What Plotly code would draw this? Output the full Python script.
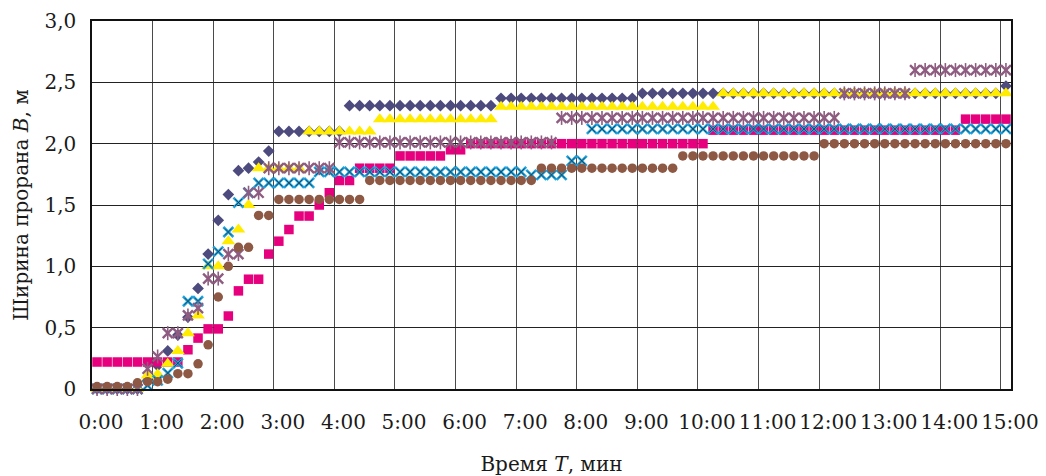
import plotly.graph_objects as go

# time stamps every 10 s, 0:00 .. 15:00 (category labels)
times = [f"{s // 60}:{s % 60:02d}" for s in range(0, 901, 10)]

y_tickvals = [0, 0.5, 1.0, 1.5, 2.0, 2.5, 3.0]
y_ticktext = ["0", "0,5", "1,0", "1,5", "2,0", "2,5", "3,0"]

b1 = [0, 0, 0, 0, 0, 0.07, 0.19, 0.31, 0.44, 0.585,
      0.82, 1.10, 1.375, 1.585, 1.78, 1.80, 1.85, 1.94, 2.10, 2.10,
      2.10, 2.10, 2.10, 2.10, 2.10, 2.31, 2.31, 2.31, 2.31, 2.31,
      2.31, 2.31, 2.31, 2.31, 2.31, 2.31, 2.31, 2.31, 2.31, 2.31,
      2.37, 2.37, 2.37, 2.37, 2.37, 2.37, 2.37, 2.37, 2.37, 2.37,
      2.37, 2.37, 2.37, 2.37, 2.41, 2.41, 2.41, 2.41, 2.41, 2.41,
      2.41, 2.41, 2.41, 2.41, 2.41, 2.41, 2.41, 2.41, 2.41, 2.41,
      2.41, 2.41, 2.41, 2.41, 2.41, 2.41, 2.41, 2.41, 2.41, 2.41,
      2.41, 2.41, 2.41, 2.41, 2.41, 2.41, 2.41, 2.41, 2.41, 2.41,
      2.47]

b2 = [0.22, 0.22, 0.22, 0.22, 0.22, 0.22, 0.22, 0.22, 0.22, 0.32,
      0.415, 0.49, 0.49, 0.595, 0.80, 0.895, 0.895, 1.10, 1.205, 1.30,
      1.41, 1.41, 1.50, 1.60, 1.70, 1.70, 1.80, 1.80, 1.80, 1.80,
      1.90, 1.90, 1.90, 1.90, 1.90, 1.95, 1.95, 2.00, 2.00, 2.00,
      2.00, 2.00, 2.00, 2.00, 2.00, 2.00, 2.00, 2.00, 2.00, 2.00,
      2.00, 2.00, 2.00, 2.00, 2.00, 2.00, 2.00, 2.00, 2.00, 2.00,
      2.00, 2.11, 2.11, 2.11, 2.11, 2.11, 2.11, 2.11, 2.11, 2.11,
      2.11, 2.11, 2.11, 2.11, 2.11, 2.11, 2.11, 2.11, 2.11, 2.11,
      2.11, 2.11, 2.11, 2.11, 2.11, 2.11, 2.20, 2.20, 2.20, 2.20,
      2.20]

b3 = [0, 0, 0, 0, 0, 0.11, 0.12, 0.205, 0.31, 0.455,
      0.60, 1.00, 1.00, 1.205, 1.30, 1.50, 1.80, 1.80, 1.80, 1.80,
      1.80, 2.10, 2.10, 2.10, 2.10, 2.10, 2.10, 2.10, 2.20, 2.20,
      2.20, 2.20, 2.20, 2.20, 2.20, 2.20, 2.20, 2.20, 2.20, 2.20,
      2.30, 2.30, 2.30, 2.30, 2.30, 2.30, 2.30, 2.30, 2.30, 2.30,
      2.30, 2.30, 2.30, 2.30, 2.30, 2.30, 2.30, 2.30, 2.30, 2.30,
      2.30, 2.30, 2.41, 2.41, 2.41, 2.41, 2.41, 2.41, 2.41, 2.41,
      2.41, 2.41, 2.41, 2.41, 2.41, 2.41, 2.41, 2.41, 2.41, 2.41,
      2.41, 2.41, 2.41, 2.41, 2.41, 2.41, 2.41, 2.41, 2.41, 2.41,
      2.41]

b4 = [0, 0, 0, 0, 0, 0.03, 0.07, 0.13, 0.21, 0.715,
      0.715, 1.02, 1.12, 1.28, 1.52, 1.60, 1.68, 1.68, 1.68, 1.68,
      1.68, 1.68, 1.77, 1.77, 1.77, 1.77, 1.77, 1.77, 1.77, 1.77,
      1.77, 1.77, 1.77, 1.77, 1.77, 1.77, 1.77, 1.77, 1.77, 1.77,
      1.77, 1.77, 1.77, 1.745, 1.745, 1.745, 1.745, 1.86, 1.86, 2.12,
      2.12, 2.12, 2.12, 2.12, 2.12, 2.12, 2.12, 2.12, 2.12, 2.12,
      2.12, 2.12, 2.12, 2.12, 2.12, 2.12, 2.12, 2.12, 2.12, 2.12,
      2.12, 2.12, 2.12, 2.12, 2.12, 2.12, 2.12, 2.12, 2.12, 2.12,
      2.12, 2.12, 2.12, 2.12, 2.12, 2.12, 2.12, 2.12, 2.12, 2.12,
      2.12]

b5 = [0, 0, 0, 0, 0, 0.165, 0.265, 0.455, 0.455, 0.60,
      0.66, 0.90, 0.90, 1.10, 1.10, 1.60, 1.60, 1.80, 1.80, 1.80,
      1.80, 1.80, 1.80, 1.80, 2.01, 2.01, 2.01, 2.01, 2.01, 2.01,
      2.01, 2.01, 2.01, 2.01, 2.01, 2.01, 2.01, 2.01, 2.01, 2.01,
      2.01, 2.01, 2.01, 2.01, 2.01, 2.01, 2.21, 2.21, 2.21, 2.21,
      2.21, 2.21, 2.21, 2.21, 2.21, 2.21, 2.21, 2.21, 2.21, 2.21,
      2.21, 2.21, 2.21, 2.21, 2.21, 2.21, 2.21, 2.21, 2.21, 2.21,
      2.21, 2.21, 2.21, 2.21, 2.41, 2.41, 2.41, 2.41, 2.41, 2.41,
      2.41, 2.60, 2.60, 2.60, 2.60, 2.60, 2.60, 2.60, 2.60, 2.60,
      2.60]

b6 = [0.02, 0.02, 0.02, 0.02, 0.05, 0.06, 0.06, 0.08, 0.125, 0.125,
      0.205, 0.36, 0.75, 1.00, 1.155, 1.155, 1.415, 1.415, 1.545, 1.545,
      1.545, 1.545, 1.545, 1.545, 1.545, 1.545, 1.545, 1.70, 1.70, 1.70,
      1.70, 1.70, 1.70, 1.70, 1.70, 1.70, 1.70, 1.70, 1.70, 1.70,
      1.70, 1.70, 1.70, 1.70, 1.80, 1.80, 1.80, 1.80, 1.80, 1.80,
      1.80, 1.80, 1.80, 1.80, 1.80, 1.80, 1.80, 1.80, 1.90, 1.90,
      1.90, 1.90, 1.90, 1.90, 1.90, 1.90, 1.90, 1.90, 1.90, 1.90,
      1.90, 1.90, 2.00, 2.00, 2.00, 2.00, 2.00, 2.00, 2.00, 2.00,
      2.00, 2.00, 2.00, 2.00, 2.00, 2.00, 2.00, 2.00, 2.00, 2.00,
      2.00]

FONT = "DejaVu Serif"
TXT = "#1a1a1a"

# (values, symbol, fill color, line color, line width, size)
layers = [
    (b1, "diamond", "#4d4a7e", "#4d4a7e", 0, 9),
    (b2, "square", "#e6007e", "#e6007e", 0, 9.5),
    (b3, "triangle-up", "#ffec00", "#ffec00", 0, 12),
    (b4, "x-thin-open", "#1ea3e0", "#1ea3e0", 2.6, 10),
    (b4, "x-thin-open", "#222222", "#222222", 0.7, 7),
    (b5, "x-thin-open", "#8e5c80", "#8e5c80", 2.4, 10),
    (b5, "line-ns-open", "#8e5c80", "#8e5c80", 1.6, 10),
    (b6, "circle", "#8d5944", "#8d5944", 0, 9.5),
]

fig = go.Figure()
for vals, sym, col, lcol, lw, sz in layers:
    fig.add_trace(go.Scatter(
        x=times, y=vals, mode="markers", cliponaxis=False, showlegend=False,
        marker=dict(symbol=sym, size=sz, color=col,
                    line=dict(color=lcol, width=lw)),
    ))

# page has an 8 px body margin; figure sized to fit the 1046x476 window
fig.update_layout(
    width=1038, height=468,
    margin=dict(l=84, r=35, t=13, b=87),
    paper_bgcolor="white", plot_bgcolor="white",
    font=dict(family=FONT, size=20, color=TXT),
)

fig.update_xaxes(
    type="category", categoryorder="array", categoryarray=times,
    tickmode="linear", tick0=0, dtick=6, tickson="boundaries",
    range=[-0.5, 90.5], tickangle=0, automargin=False,
    showgrid=True, gridcolor="#4a4a4a", gridwidth=1.4,
    showline=True, linecolor="#111111", linewidth=1.5, mirror=True,
    ticks="", tickfont=dict(family=FONT, size=20, color=TXT),
    ticklabelstandoff=14, ticklabelshift=4,
    title=dict(text="Время <i>T</i>, мин", font=dict(family=FONT, size=20, color=TXT),
               standoff=26),
)

fig.update_yaxes(
    range=[0, 3.0], tickmode="array", tickvals=y_tickvals, ticktext=y_ticktext,
    automargin=False,
    showgrid=True, gridcolor="#222222", gridwidth=1.3, zeroline=False,
    showline=True, linecolor="#111111", linewidth=1.5, mirror=True,
    ticks="", tickfont=dict(family=FONT, size=20, color=TXT),
    ticklabelstandoff=10,
    title=dict(text="Ширина прорана <i>B</i>, м", font=dict(family=FONT, size=20, color=TXT),
               standoff=10),
)

fig.write_html("out.html")
